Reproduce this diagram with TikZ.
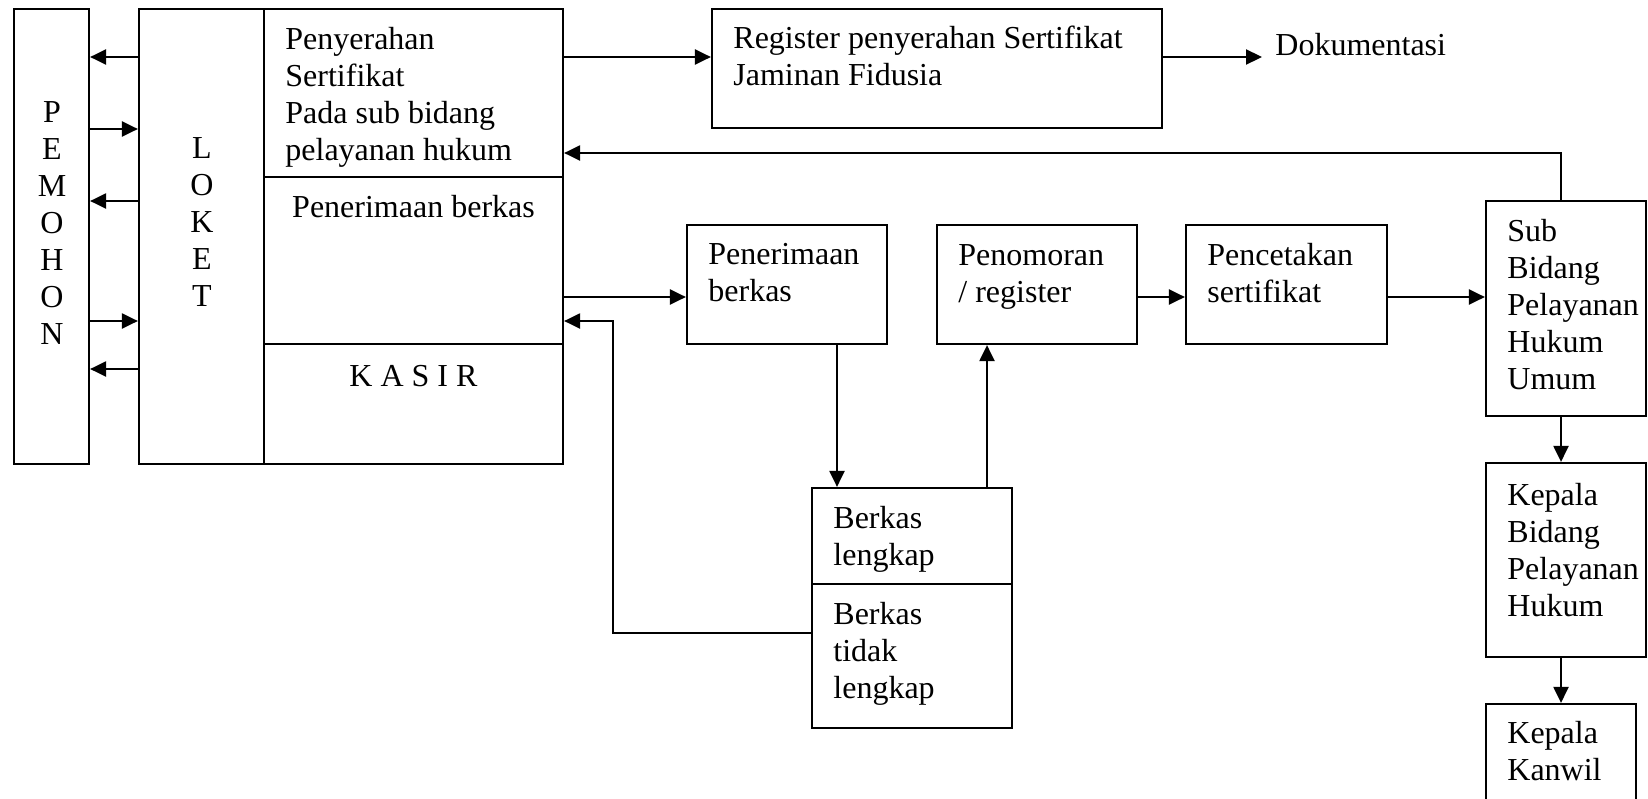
\documentclass[tikz,border=0pt]{standalone}
\usepackage{fontspec}
\setmainfont{Liberation Serif}
\usetikzlibrary{arrows.meta,fit}

\begin{document}
\begin{tikzpicture}[x=0.5pt,y=-0.5pt,
  kotak/.style={draw,line width=1.1pt,inner sep=0pt},
  teks/.style={below right,align=left,inner sep=0pt,font=\fontsize{16pt}{18.5pt}\selectfont},
  panah/.style={line width=1.1pt,-{Triangle[length=8pt,width=7.5pt]}}]
\useasboundingbox (0,0) rectangle (1648,798);
\clip (0,0) rectangle (1648,798);

% kotak
\node[kotak,fit={(14,9) (89,464)}] (pemohon) {};
\node[kotak,fit={(139,9) (264,464)}] (loket) {};
\node[kotak,fit={(264,9) (563,177)}] (serah) {};
\node[kotak,fit={(264,177) (563,344)}] (terima) {};
\node[kotak,fit={(264,344) (563,464)}] (kasir) {};
\node[kotak,fit={(712,9) (1162,128)}] (register) {};
\node[kotak,fit={(687,225) (887,344)}] (berkas) {};
\node[kotak,fit={(937,225) (1137,344)}] (nomor) {};
\node[kotak,fit={(1186,225) (1387,344)}] (cetak) {};
\node[kotak,fit={(812,488) (1012,584)}] (lengkap) {};
\node[kotak,fit={(812,584) (1012,728)}] (tdklengkap) {};
\node[kotak,fit={(1486,201) (1646,416)}] (subbid) {};
\node[kotak,fit={(1486,463) (1646,657)}] (kabid) {};
\node[kotak,fit={(1486,704) (1636,830)}] (kanwil) {};

% teks
\node[teks,anchor=north,align=center] (tpemohon) at (52,101) {P\\E\\M\\O\\H\\O\\N};
\node[teks,anchor=north,align=center] (tloket) at (202,137) {L\\O\\K\\E\\T};
\node[teks] (tserah) at (285,27) {Penyerahan\\Sertifikat\\Pada sub bidang\\pelayanan hukum};
\node[teks,anchor=north] (tterima) at (413.5,195) {Penerimaan berkas};
\node[teks,anchor=north] (tkasir) at (413.5,365) {K A S I R};
\node[teks] (tregister) at (733,26) {Register penyerahan Sertifikat\\Jaminan Fidusia};
\node[teks] (doku) at (1275,33) {Dokumentasi};
\node[teks] (tberkas) at (708,243) {Penerimaan\\berkas};
\node[teks] (tnomor) at (958,244) {Penomoran\\/ register};
\node[teks] (tcetak) at (1207,243) {Pencetakan\\sertifikat};
\node[teks] (tlengkap) at (833,506) {Berkas\\lengkap};
\node[teks] (ttidak) at (833,602) {Berkas\\tidak\\lengkap};
\node[teks] (tsubbid) at (1507,219) {Sub\\Bidang\\Pelayanan\\Hukum\\Umum};
\node[teks] (tkabid) at (1507,483) {Kepala\\Bidang\\Pelayanan\\Hukum};
\node[teks] (tkanwil) at (1507,721) {Kepala\\Kanwil};

% panah pemohon - loket
\draw[panah] (loket.west |- 0,57) -- (pemohon.east |- 0,57);
\draw[panah] (pemohon.east |- 0,129) -- (loket.west |- 0,129);
\draw[panah] (loket.west |- 0,201) -- (pemohon.east |- 0,201);
\draw[panah] (pemohon.east |- 0,321) -- (loket.west |- 0,321);
\draw[panah] (loket.west |- 0,369) -- (pemohon.east |- 0,369);

% panah atas
\coordinate (dokuin) at (1262,57);
\draw[panah] (serah.east |- 0,57) -- (register.west |- 0,57);
\draw[panah] (register.east |- 0,57) -- (dokuin);
\draw[panah] (kanwil.north |- subbid.north) |- (serah.east |- 0,153);

% panah tengah
\draw[panah] (terima.east |- 0,297) -- (berkas.west |- 0,297);
\draw[panah] (berkas.south -| 837,0) -- (lengkap.north -| 837,0);
\draw[panah] (lengkap.north -| 987,0) -- (nomor.south -| 987,0);
\draw[panah] (nomor.east |- 0,297) -- (cetak.west |- 0,297);
\draw[panah] (cetak.east |- 0,297) -- (subbid.west |- 0,297);
\draw[panah] (tdklengkap.west |- 0,633) -| (613,321) -- (terima.east |- 0,321);

% panah kanan
\draw[panah] (kanwil.north |- subbid.south) -- (kanwil.north |- kabid.north);
\draw[panah] (kanwil.north |- kabid.south) -- (kanwil.north);
\end{tikzpicture}
\end{document}
